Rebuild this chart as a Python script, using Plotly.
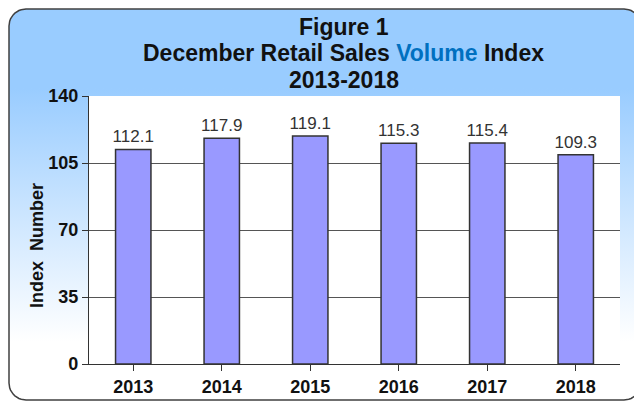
import numpy as np
import plotly.graph_objects as go

# ---- data ----
years = ["2013", "2014", "2015", "2016", "2017", "2018"]
index_values = [112.1, 117.9, 119.1, 115.3, 115.4, 109.3]
y_ticks = [0, 35, 70, 105, 140]

W, H = 642, 402
FONT = "Liberation Sans, Arial, sans-serif"
OFF = 8  # page offset of the figure (body margin)

# plot area in figure pixels
PL, PR, PT, PB = 89 - OFF, 620 - OFF, 96 - OFF, 364 - OFF


def rounded_rect(x0, y0, x1, y1, r, n=12):
    pts = []
    corners = [(x1 - r, y1 - r, 0, 90), (x0 + r, y1 - r, 90, 180),
               (x0 + r, y0 + r, 180, 270), (x1 - r, y0 + r, 270, 360)]
    for cx, cy, a0, a1 in corners:
        for a in np.linspace(np.radians(a0), np.radians(a1), n):
            pts.append((cx + r * np.cos(a), cy + r * np.sin(a)))
    pts.append(pts[0])
    xs, ys = zip(*pts)
    return list(xs), list(ys)


# background frame (y axis: data y = H - pixel y)
bx, by = rounded_rect(1, H - (400 - OFF), 641 - OFF, H - 1, 17)

fig = go.Figure()
fig.add_trace(go.Scatter(
    x=bx, y=by, mode="lines", fill="toself",
    line=dict(color="#404040", width=1.5),
    fillgradient=dict(type="vertical", start=0, stop=H,
                      colorscale=[[0, "#ffffff"], [0.17, "#ffffff"],
                                  [0.80, "#99ccff"], [1, "#99ccff"]]),
    hoverinfo="skip", showlegend=False, xaxis="x", yaxis="y"))
fig.add_trace(go.Scatter(
    x=[PL, PR, PR, PL, PL], y=[H - PB, H - PB, H - PT, H - PT, H - PB],
    mode="lines", fill="toself", fillcolor="white", line=dict(width=0),
    hoverinfo="skip", showlegend=False, xaxis="x", yaxis="y"))

fig.add_trace(go.Bar(
    x=years, y=index_values, width=0.4,
    marker=dict(color="#9999ff", line=dict(color="#333333", width=1.5)),
    text=[f"{v:.1f}" for v in index_values], textposition="outside",
    constraintext="none",
    textfont=dict(family=FONT, size=17, color="#333333"),
    cliponaxis=False, showlegend=False, xaxis="x2", yaxis="y2"))

tick_font = dict(family=FONT, size=18, color="#111111", weight="bold")

fig.update_layout(
    template="none",
    width=W, height=H, margin=dict(l=0, r=0, t=0, b=0, pad=0, autoexpand=False),
    paper_bgcolor="white", plot_bgcolor="rgba(0,0,0,0)",
    font=dict(family=FONT, color="#111111"),
    xaxis=dict(domain=[0, 1], range=[0, W], visible=False, fixedrange=True,
               automargin=False),
    yaxis=dict(domain=[0, 1], range=[0, H], visible=False, fixedrange=True,
               automargin=False),
    xaxis2=dict(domain=[PL / W, PR / W], anchor="y2", showgrid=False,
                automargin=False, fixedrange=True,
                showline=True, linecolor="#333333", linewidth=1.2,
                ticks="outside", tickson="boundaries", ticklen=6,
                tickcolor="#333333", tickfont=tick_font),
    yaxis2=dict(domain=[(H - PB) / H, (H - PT) / H], anchor="x2",
                automargin=False, fixedrange=True,
                range=[0, 140], tickvals=y_ticks, showgrid=True,
                gridcolor="#555555", gridwidth=1, zeroline=False,
                showline=True, linecolor="#333333", linewidth=1.2,
                ticks="outside", ticklen=6, tickcolor="#333333",
                tickfont=tick_font),
    bargap=0.6,
    showlegend=False,
)

title_font = dict(family=FONT, size=23, color="#111111", weight="bold")
for txt, ypix in [("Figure 1", 27),
                  ("December Retail Sales <span style='color:#0070c0'>Volume</span> Index", 53),
                  ("2013-2018", 80)]:
    fig.add_annotation(text=txt, xref="paper", yref="paper",
                       x=(344 - OFF) / W, y=1 - (ypix - OFF) / H, showarrow=False,
                       xanchor="center", yanchor="middle", font=title_font)

fig.add_annotation(text="Index  Number", xref="paper", yref="paper",
                   x=(37 - OFF) / W, y=1 - (246 - OFF) / H, showarrow=False,
                   textangle=-90, xanchor="center", yanchor="middle",
                   font=dict(family=FONT, size=18, color="#111111", weight="bold"))

fig.write_html("out.html")
